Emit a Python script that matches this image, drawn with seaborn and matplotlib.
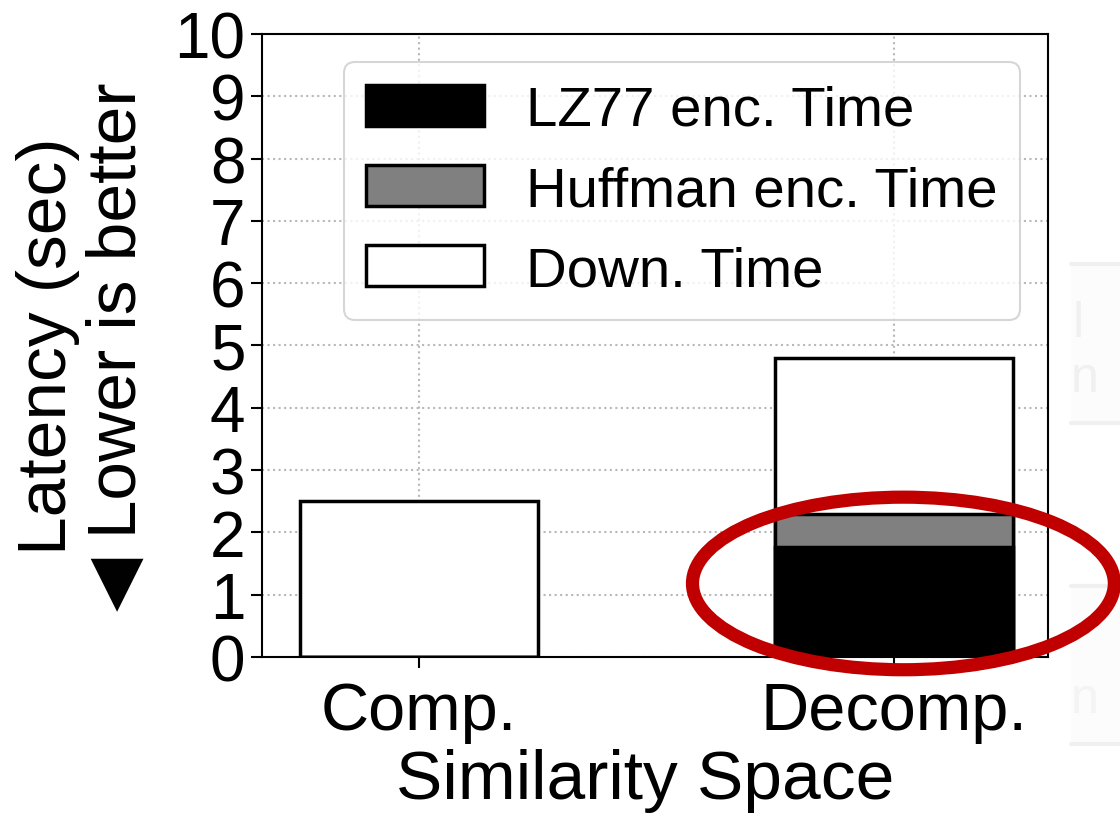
import matplotlib
matplotlib.use("Agg")
import matplotlib.pyplot as plt
from matplotlib.patches import Patch, Ellipse, Rectangle
from matplotlib.lines import Line2D
import seaborn as sns
import pandas as pd

# Latency breakdown (seconds)
categories = ["Comp.", "Decomp."]
lz77_time = [0.0, 1.77]
huffman_time = [0.0, 0.53]
down_time = [2.50, 2.50]

series_labels = ["LZ77 enc. Time", "Huffman enc. Time", "Down. Time"]
series_colors = ["#000000", "#808080", "#ffffff"]
y_ticks = list(range(0, 11))

sns.set_theme(style="ticks")
plt.rcParams["font.family"] = ["Liberation Sans", "DejaVu Sans"]
plt.rcParams["text.color"] = "black"
plt.rcParams["axes.labelcolor"] = "black"
plt.rcParams["xtick.color"] = "black"
plt.rcParams["ytick.color"] = "black"

df = pd.DataFrame({
    "space": categories,
    "lz77": lz77_time,
    "huffman": huffman_time,
    "down": down_time,
})
df["lz_huff"] = df["lz77"] + df["huffman"]
df["total"] = df["lz_huff"] + df["down"]

fig = plt.figure(figsize=(11.2, 8.2), dpi=100)
ax = fig.add_axes([0.234, 0.1976, 0.702, 0.7598])

# stacked bars drawn from the cumulative totals downwards
layers = [("total", series_colors[2]), ("lz_huff", series_colors[1]), ("lz77", series_colors[0])]
for col, color in layers:
    sns.barplot(data=df, x="space", y=col, color=color, edgecolor="black",
                linewidth=2.5, width=0.5, saturation=1, ax=ax, zorder=3)

ax.set_xlim(-0.33, 1.325)
ax.set_ylim(0, 10)
ax.set_yticks(y_ticks)
ax.set_yticklabels([str(t) for t in y_ticks])

ax.grid(True, linestyle=":", color="#b8b8b8", linewidth=1.5, zorder=0)
ax.set_axisbelow(True)

for side in ["left", "right", "top", "bottom"]:
    ax.spines[side].set_visible(True)
    ax.spines[side].set_color("black")
    ax.spines[side].set_linewidth(1.5)

ax.tick_params(axis="y", labelsize=46, length=8, width=1.5, pad=4)
ax.tick_params(axis="x", labelsize=48, length=8, width=1.5, pad=9)

ax.set_xlabel("Similarity Space", fontsize=50)
ax.xaxis.set_label_coords(0.487, -0.146, transform=ax.transAxes)
ax.xaxis.label.set_va("top")
ax.set_ylabel("Latency (sec)\n\u25c0 Lower is better", fontsize=50, labelpad=18,
              linespacing=1.1)

handles = [Patch(facecolor=c, edgecolor="black", linewidth=2.5) for c in series_colors]
leg = ax.legend(handles, series_labels, loc="upper right", fontsize=40.6,
                frameon=True, framealpha=0.8, edgecolor="#cccccc",
                handlelength=2.08, handleheight=0.74, labelspacing=0.5,
                borderpad=0.4, handletextpad=0.75)
leg.get_frame().set_linewidth(1.5)
for t in leg.get_texts():
    t.set_color("black")

# highlight around the Decomp. encoding segments
ax.add_patch(Ellipse((1.02, 1.18), 0.888, 2.77, fill=False, edgecolor="#c00000",
                     linewidth=9.5, clip_on=False, zorder=10))

# faint neighbouring panel at the right edge
for top, bottom in [(265, 424), (587, 745)]:
    y0 = 1 - bottom / 820
    h = (bottom - top) / 820
    fig.patches.append(Rectangle((1071 / 1120, y0), 0.05, h, transform=fig.transFigure,
                                 facecolor="#fcfcfc", edgecolor="none", zorder=-2))
    for yy in (top, bottom):
        fig.lines.append(Line2D([1071 / 1120, 1.0], [1 - yy / 820] * 2,
                                transform=fig.transFigure, color="#f0f0f0",
                                linewidth=3, zorder=-1))
fig.text(1073 / 1120, 1 - 337 / 820, "l", fontsize=36, color="#f0f0f0")
fig.text(1071 / 1120, 1 - 392 / 820, "n", fontsize=36, color="#f0f0f0")
fig.text(1071 / 1120, 1 - 713 / 820, "n", fontsize=36, color="#f4f4f4")

fig.savefig("out.png", dpi=100, facecolor="white")
